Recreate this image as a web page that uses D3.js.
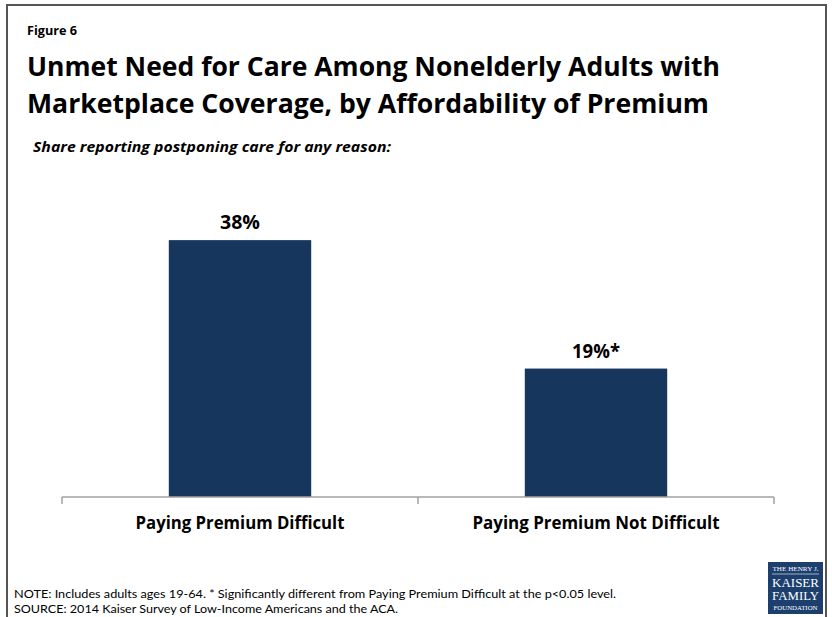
<!DOCTYPE html>
<html><head><meta charset="utf-8">
<script src="https://cdn.jsdelivr.net/npm/d3@7"></script>
<style>body{margin:0;background:#fff}svg{display:block}</style>
</head><body>
<script>
const categories = ["Paying Premium Difficult", "Paying Premium Not Difficult"];
const values = [38, 19];
const valueLabels = ["38%", "19%*"];
const figureLabel = "Figure 6";
const titleLines = ["Unmet Need for Care Among Nonelderly Adults with", "Marketplace Coverage, by Affordability of Premium"];
const subtitle = "Share reporting postponing care for any reason:";
const notes = ["NOTE: Includes adults ages 19-64. * Significantly different from Paying Premium Difficult at the p<0.05 level.", "SOURCE: 2014 Kaiser Survey of Low-Income Americans and the ACA."];

const W = 832, H = 617;
const svg = d3.select("body").append("svg").attr("width", W).attr("height", H);
const font = "'Open Sans', sans-serif";

// frame
svg.append("path").attr("d", `M7,${H} V5 H826 V${H}`).attr("fill", "none").attr("stroke", "#555").attr("stroke-width", 2);

svg.append("text").attr("x", 27).attr("y", 35).text(figureLabel)
  .attr("font-family", font).attr("font-weight", 700).attr("font-size", 13)
  .attr("textLength", 50).attr("lengthAdjust", "spacingAndGlyphs");

const titleW = [693, 682];
titleLines.forEach((t, i) => {
  svg.append("text").attr("x", 27).attr("y", 76 + i * 37).text(t)
    .attr("font-family", font).attr("font-weight", 700).attr("font-size", 27).attr("fill", "#000")
    .attr("textLength", titleW[i]).attr("lengthAdjust", "spacingAndGlyphs");
});

svg.append("text").attr("x", 33).attr("y", 152).text(subtitle)
  .attr("font-family", font).attr("font-weight", 700).attr("font-style", "italic").attr("font-size", 15)
  .attr("textLength", 358).attr("lengthAdjust", "spacingAndGlyphs");

// scales
const x = d3.scaleBand().domain(categories).range([62, 774]).paddingInner(0.6).paddingOuter(0.3);
const outer = d3.scaleBand().domain(categories).range([62, 774]).padding(0);
const y = d3.scaleLinear().domain([0, 40]).range([497, 497 - 40 * 6.76]);

svg.selectAll("rect.bar").data(values).join("rect").attr("class", "bar")
  .attr("x", (d, i) => x(categories[i])).attr("width", x.bandwidth())
  .attr("y", d => y(d)).attr("height", d => y(0) - y(d)).attr("fill", "#17365d");

// axis
const axisG = svg.append("g").attr("transform", `translate(0,${y(0)})`);
axisG.append("line").attr("x1", 62).attr("x2", 774).attr("stroke", "#a0a0a0").attr("stroke-width", 1.5);
const tickPos = categories.map(c => outer(c)).concat([outer(categories[1]) + outer.bandwidth()]);
axisG.selectAll("line.tick").data(tickPos).join("line").attr("class", "tick")
  .attr("x1", d => d).attr("x2", d => d).attr("y1", 0).attr("y2", 7).attr("stroke", "#a0a0a0").attr("stroke-width", 1.5);

const catW = [209, 247];
svg.selectAll("text.cat").data(categories).join("text").attr("class", "cat")
  .attr("x", d => x(d) + x.bandwidth() / 2).attr("y", 529).attr("text-anchor", "middle").text(d => d)
  .attr("font-family", font).attr("font-weight", 700).attr("font-size", 17)
  .attr("textLength", (d, i) => catW[i]).attr("lengthAdjust", "spacingAndGlyphs");

const valW = [40, 48];
svg.selectAll("text.val").data(values).join("text").attr("class", "val")
  .attr("x", (d, i) => x(categories[i]) + x.bandwidth() / 2).attr("y", d => y(d) - 11)
  .attr("text-anchor", "middle").text((d, i) => valueLabels[i])
  .attr("font-family", font).attr("font-weight", 700).attr("font-size", 19)
  .attr("textLength", (d, i) => valW[i]).attr("lengthAdjust", "spacingAndGlyphs");

const noteW = [602, 384];
notes.forEach((t, i) => {
  svg.append("text").attr("x", 14).attr("y", 598 + i * 14.6).text(t)
    .attr("font-family", "Lato, sans-serif").attr("font-size", 12)
    .attr("textLength", noteW[i]).attr("lengthAdjust", "spacingAndGlyphs");
});

// logo
const lg = svg.append("g").attr("transform", "translate(768,562)");
lg.append("rect").attr("width", 55).attr("height", 52).attr("fill", "#1c3f6e");
const serif = "'Liberation Serif', serif";
lg.append("text").attr("x", 27.5).attr("y", 9).attr("text-anchor", "middle").text("THE HENRY J.")
  .attr("font-family", serif).attr("font-size", 5.5).attr("fill", "#fff").attr("textLength", 46).attr("lengthAdjust", "spacingAndGlyphs");
lg.append("line").attr("x1", 4).attr("x2", 51).attr("y1", 12).attr("y2", 12).attr("stroke", "#fff").attr("stroke-width", 0.6);
lg.append("text").attr("x", 27.5).attr("y", 25).attr("text-anchor", "middle").text("KAISER")
  .attr("font-family", serif).attr("font-size", 11.5).attr("fill", "#fff").attr("textLength", 47).attr("lengthAdjust", "spacingAndGlyphs");
lg.append("text").attr("x", 27.5).attr("y", 38).attr("text-anchor", "middle").text("FAMILY")
  .attr("font-family", serif).attr("font-size", 11.5).attr("fill", "#fff").attr("textLength", 47).attr("lengthAdjust", "spacingAndGlyphs");
lg.append("text").attr("x", 27.5).attr("y", 48).attr("text-anchor", "middle").text("FOUNDATION")
  .attr("font-family", serif).attr("font-size", 5.5).attr("fill", "#fff").attr("textLength", 44).attr("lengthAdjust", "spacingAndGlyphs");
</script>
</body></html>
